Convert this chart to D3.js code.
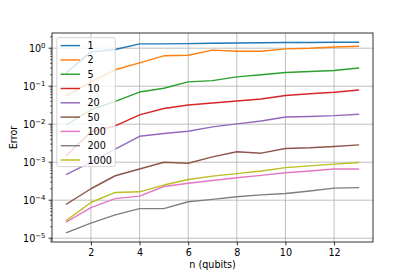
<!DOCTYPE html>
<html>
<head>
<meta charset="utf-8">
<script src="https://cdn.jsdelivr.net/npm/d3@7"></script>
<style>
  html, body { margin: 0; padding: 0; background: #fff; }
  svg { display: block; font-family: "DejaVu Sans", sans-serif; }
</style>
</head>
<body>
<div id="chart"></div>
<script>
// n (qubits)
var nQubits = [1, 2, 3, 4, 5, 6, 7, 8, 9, 10, 11, 12, 13];

// series labels and their error curves
var seriesLabels = ['1', '2', '5', '10', '20', '50', '100', '200', '1000'];
var err1 = [0.23, 0.8, 0.92, 1.3, 1.3, 1.32, 1.35, 1.37, 1.39, 1.41, 1.42, 1.43, 1.44];
var err2 = [0.057, 0.13, 0.27, 0.41, 0.63, 0.65, 0.89, 0.83, 0.83, 0.96, 1.0, 1.08, 1.13];
var err5 = [0.0096, 0.024, 0.04, 0.07, 0.088, 0.13, 0.14, 0.176, 0.2, 0.23, 0.245, 0.26, 0.3];
var err10 = [0.0015, 0.0063, 0.009, 0.0176, 0.026, 0.032, 0.036, 0.041, 0.046, 0.057, 0.063, 0.069, 0.079];
var err20 = [0.00048, 0.001, 0.0022, 0.0048, 0.0057, 0.0065, 0.0085, 0.0102, 0.0122, 0.0155, 0.016, 0.0168, 0.0183];
var err50 = [7.9e-5, 2.0e-4, 4.4e-4, 6.6e-4, 0.001, 9.4e-4, 0.00138, 0.00188, 0.00173, 0.0023, 0.0024, 0.0026, 0.00285];
var err100 = [2.7e-5, 6.4e-5, 1.1e-4, 1.28e-4, 2.3e-4, 2.8e-4, 3.3e-4, 3.9e-4, 4.5e-4, 5.3e-4, 5.9e-4, 6.6e-4, 6.6e-4];
var err200 = [1.4e-5, 2.5e-5, 4.1e-5, 6.0e-5, 6.0e-5, 9.1e-5, 1.05e-4, 1.23e-4, 1.38e-4, 1.5e-4, 1.75e-4, 2.08e-4, 2.14e-4];
var err1000 = [2.96e-5, 8.7e-5, 1.6e-4, 1.66e-4, 2.5e-4, 3.5e-4, 4.3e-4, 5.0e-4, 5.9e-4, 7.2e-4, 8.0e-4, 8.9e-4, 9.8e-4];

var xTicks = [2, 4, 6, 8, 10, 12];
var yTickExps = [0, -1, -2, -3, -4, -5];

var colors = ['#1f77b4', '#ff7f0e', '#2ca02c', '#d62728', '#9467bd', '#8c564b', '#e377c2', '#7f7f7f', '#bcbd22'];
var allSeries = [err1, err2, err5, err10, err20, err50, err100, err200, err1000];

(function () {
  var W = 415, H = 277;
  var pl = 52, pr = 373, pt = 33, pb = 242;
  var fs = 9.6;

  var x = d3.scaleLinear().domain([0.4, 13.6]).range([pl, pr]);
  var y = d3.scaleLog().domain([Math.pow(10, -5.1), Math.pow(10, 0.4)]).range([pb, pt]);

  var svg = d3.select('#chart').append('svg')
    .attr('width', W)
    .attr('height', H);

  // grid
  var grid = svg.append('g');
  grid.selectAll('line.gx')
    .data(xTicks)
    .enter()
    .append('line')
    .attr('class', 'gx')
    .attr('x1', function (d) { return x(d); })
    .attr('x2', function (d) { return x(d); })
    .attr('y1', pt)
    .attr('y2', pb)
    .attr('stroke', '#b0b0b0')
    .attr('stroke-width', 0.8);
  grid.selectAll('line.gy')
    .data(yTickExps)
    .enter()
    .append('line')
    .attr('class', 'gy')
    .attr('x1', pl)
    .attr('x2', pr)
    .attr('y1', function (d) { return y(Math.pow(10, d)); })
    .attr('y2', function (d) { return y(Math.pow(10, d)); })
    .attr('stroke', '#b0b0b0')
    .attr('stroke-width', 0.8);

  // series lines
  var line = d3.line()
    .x(function (d, i) { return x(nQubits[i]); })
    .y(function (d) { return y(d); });

  svg.append('g')
    .selectAll('path')
    .data(allSeries)
    .enter()
    .append('path')
    .attr('d', line)
    .attr('fill', 'none')
    .attr('stroke', function (d, i) { return colors[i]; })
    .attr('stroke-width', 1.45)
    .attr('stroke-linecap', 'square')
    .attr('stroke-linejoin', 'round');

  // x axis
  var xAxis = d3.axisBottom(x).tickValues(xTicks).tickSize(3.4).tickFormat(d3.format('d'));
  var gx = svg.append('g')
    .attr('transform', 'translate(0,' + pb + ')')
    .call(xAxis);
  gx.select('.domain').remove();
  gx.selectAll('line').attr('stroke', '#000').attr('stroke-width', 0.8);
  gx.selectAll('text')
    .attr('font-size', fs)
    .attr('font-family', 'DejaVu Sans')
    .attr('fill', '#000')
    .attr('dy', null)
    .attr('y', 14);

  // minor log ticks
  var minor = [];
  for (var e = -6; e <= 0; e++) {
    for (var m = 2; m <= 9; m++) {
      var v = m * Math.pow(10, e);
      if (v >= y.domain()[0] && v <= y.domain()[1]) minor.push(v);
    }
  }
  svg.append('g').selectAll('line')
    .data(minor)
    .enter()
    .append('line')
    .attr('x1', pl - 1.9)
    .attr('x2', pl)
    .attr('y1', function (d) { return y(d); })
    .attr('y2', function (d) { return y(d); })
    .attr('stroke', '#000')
    .attr('stroke-width', 0.6);

  // y major ticks with 10^n labels
  var yt = svg.append('g').selectAll('g')
    .data(yTickExps)
    .enter()
    .append('g')
    .attr('transform', function (d) { return 'translate(0,' + y(Math.pow(10, d)) + ')'; });
  yt.append('line')
    .attr('x1', pl - 3.4)
    .attr('x2', pl)
    .attr('stroke', '#000')
    .attr('stroke-width', 0.8);
  var ylab = yt.append('text')
    .attr('x', 45.5)
    .attr('y', 3.6)
    .attr('text-anchor', 'end')
    .attr('font-size', fs)
    .attr('fill', '#000');
  ylab.append('tspan').text('10');
  ylab.append('tspan')
    .attr('dy', -3.4)
    .attr('font-size', 6.9)
    .text(function (d) { return d < 0 ? '\u2212' + (-d) : String(d); });

  // spines
  svg.append('rect')
    .attr('x', pl)
    .attr('y', pt)
    .attr('width', pr - pl)
    .attr('height', pb - pt)
    .attr('fill', 'none')
    .attr('stroke', '#000')
    .attr('stroke-width', 0.8);

  // axis labels
  svg.append('text')
    .attr('x', (pl + pr) / 2)
    .attr('y', 268)
    .attr('text-anchor', 'middle')
    .attr('font-size', fs)
    .text('n (qubits)');
  svg.append('text')
    .attr('transform', 'translate(16.5,' + ((pt + pb) / 2) + ') rotate(-90)')
    .attr('text-anchor', 'middle')
    .attr('font-size', fs)
    .text('Error');

  // legend
  var lgX = 56.8, lgY = 37.6, rowH = 14.3;
  var legend = svg.append('g');
  legend.append('rect')
    .attr('x', lgX)
    .attr('y', lgY)
    .attr('width', 58.5)
    .attr('height', 129)
    .attr('rx', 2)
    .attr('fill', '#fff')
    .attr('fill-opacity', 0.8)
    .attr('stroke', '#cccccc')
    .attr('stroke-width', 0.8);
  var items = legend.selectAll('g')
    .data(seriesLabels)
    .enter()
    .append('g')
    .attr('transform', function (d, i) { return 'translate(0,' + (lgY + 8 + i * rowH) + ')'; });
  items.append('line')
    .attr('x1', 60.6)
    .attr('x2', 80)
    .attr('stroke', function (d, i) { return colors[i]; })
    .attr('stroke-width', 1.45);
  items.append('text')
    .attr('x', 87.5)
    .attr('y', 3.5)
    .attr('font-size', fs)
    .attr('fill', '#000')
    .text(function (d) { return d; });
})();
</script>
</body>
</html>
